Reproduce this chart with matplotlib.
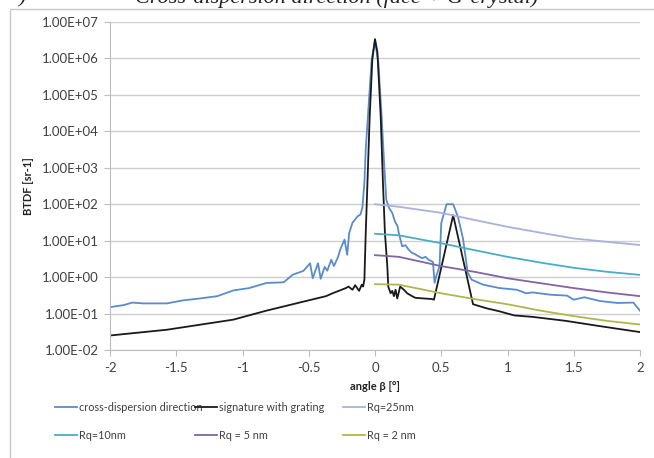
import matplotlib
matplotlib.use("Agg")
import matplotlib.pyplot as plt
from matplotlib.patches import Rectangle

# ---- data ----
cross_x = [-2.0, -1.9, -1.83, -1.75, -1.65, -1.57, -1.45, -1.32, -1.19, -1.07, -0.95, -0.82,
           -0.69, -0.62, -0.54, -0.49, -0.47, -0.45, -0.43, -0.41, -0.38, -0.36, -0.33, -0.31,
           -0.28, -0.26, -0.23, -0.21, -0.195, -0.17, -0.13, -0.11, -0.095, -0.08, -0.07,
           -0.045, -0.025, 0.0, 0.025, 0.05, 0.07, 0.085, 0.105, 0.13, 0.15, 0.17, 0.18,
           0.205, 0.23, 0.255, 0.28, 0.305, 0.33, 0.355, 0.38, 0.405, 0.437, 0.45, 0.46,
           0.487, 0.50, 0.54, 0.59, 0.626, 0.664, 0.70, 0.73, 0.815, 0.94, 1.07, 1.14, 1.19,
           1.32, 1.45, 1.5, 1.58, 1.7, 1.83, 1.95, 2.0]
cross_y = [0.15, 0.17, 0.20, 0.19, 0.19, 0.19, 0.23, 0.26, 0.30, 0.43, 0.50, 0.69,
           0.72, 1.17, 1.48, 2.4, 0.93, 1.5, 2.4, 0.9, 1.9, 1.5, 3.0, 2.0,
           3.5, 6.0, 10.7, 4.1, 16, 31, 47, 52, 80, 390, 3200,
           76000, 950000, 3.0e6, 8e5, 25000, 1100, 135, 80, 58, 34, 25, 16,
           7, 7.5, 5.6, 4.6, 4.2, 3.7, 3.3, 3.6, 3.0, 2.6, 0.7, 1.0,
           2.0, 30, 100, 100, 45, 11.5, 1.3, 0.85, 0.62, 0.50, 0.45, 0.36, 0.38,
           0.33, 0.31, 0.24, 0.28, 0.22, 0.195, 0.2, 0.12]

grat_x = [-2.0, -1.57, -1.07, -0.82, -0.57, -0.37, -0.32, -0.22, -0.2, -0.17, -0.15, -0.12,
          -0.10, -0.09, -0.08, -0.07, -0.057, -0.04, -0.02, 0.0, 0.018, 0.043, 0.06, 0.075,
          0.093, 0.10, 0.118, 0.13, 0.143, 0.155, 0.168, 0.19, 0.218, 0.243, 0.28, 0.305,
          0.43, 0.445, 0.59, 0.74, 0.84, 0.94, 1.05, 1.19, 1.44, 1.7, 2.0]
grat_y = [0.025, 0.036, 0.068, 0.12, 0.20, 0.30, 0.36, 0.50, 0.55, 0.45, 0.60, 0.42,
          0.62, 0.55, 0.85, 16, 390, 26000, 950000, 3.4e6, 1.5e6, 26000, 390, 16,
          2.0, 0.55, 0.36, 0.42, 0.30, 0.45, 0.26, 0.55, 0.45, 0.36, 0.30, 0.27,
          0.25, 0.24, 50, 0.18, 0.14, 0.115, 0.089, 0.081, 0.063, 0.045, 0.031]

rq_x = [0.0, 0.18, 0.5, 0.75, 1.0, 1.25, 1.5, 1.75, 2.0]
rq25 = [100, 85, 58, 37, 24, 16.5, 11.5, 9.3, 7.6]
rq10 = [15.5, 14, 8.5, 5.5, 3.6, 2.5, 1.8, 1.4, 1.15]
rq5 = [4.0, 3.6, 2.0, 1.4, 0.93, 0.68, 0.50, 0.38, 0.30]
rq2 = [0.64, 0.62, 0.36, 0.25, 0.18, 0.12, 0.085, 0.063, 0.05]

x_ticks = [-2, -1.5, -1, -0.5, 0, 0.5, 1, 1.5, 2]
x_tick_labels = ["-2", "-1.5", "-1", "-0.5", "0", "0.5", "1", "1.5", "2"]
y_ticks = [1e-2, 1e-1, 1e0, 1e1, 1e2, 1e3, 1e4, 1e5, 1e6, 1e7]
y_tick_labels = ["1.00E-02", "1.00E-01", "1.00E+00", "1.00E+01", "1.00E+02",
                 "1.00E+03", "1.00E+04", "1.00E+05", "1.00E+06", "1.00E+07"]

plt.rcParams['font.family'] = ['Lato', 'DejaVu Sans']

W, H = 654, 458
fig = plt.figure(figsize=(W / 100, H / 100), dpi=100)

# chart frame
fig.patches.append(Rectangle((10 / W, -0.1), 1.2, 1 - 9 / H + 0.1, transform=fig.transFigure,
                             fill=False, edgecolor='#c8c8c8', linewidth=1.0))

# title (cut off at the top, as in the source image)
fig.text(18 / W, 1 + 2 / H, ")", fontsize=16, family='Liberation Serif', style='italic',
         va='center', ha='left', color='#222222')
fig.text(135 / W, 1 + 2 / H, "Cross-dispersion direction (face + G-crystal)", fontsize=16,
         family='Liberation Serif', style='italic', va='center', ha='left', color='#222222')

ax = fig.add_axes([110 / W, 1 - 350 / H, 530 / W, 328 / H])
ax.set_yscale('log')
ax.set_xlim(-2, 2)
ax.set_ylim(1e-2, 1e7)

l_cross, = ax.plot(cross_x, cross_y, color='#5a8bcb', lw=1.3, label='cross-dispersion direction')
l_grat, = ax.plot(grat_x, grat_y, color='#1a1a1a', lw=1.3, label='signature with grating')
l25, = ax.plot(rq_x, rq25, color='#aab2da', lw=1.3, label='Rq=25nm')
l10, = ax.plot(rq_x, rq10, color='#4badc4', lw=1.3, label='Rq=10nm')
l5, = ax.plot(rq_x, rq5, color='#8066a3', lw=1.3, label='Rq = 5 nm')
l2, = ax.plot(rq_x, rq2, color='#adb84c', lw=1.3, label='Rq = 2 nm')

ax.set_xticks(x_ticks)
ax.set_xticklabels(x_tick_labels)
ax.set_yticks(y_ticks)
ax.set_yticklabels(y_tick_labels)
ax.yaxis.set_minor_locator(matplotlib.ticker.NullLocator())
ax.grid(axis='y', color='#cfcfcf', lw=1.0)
ax.set_axisbelow(True)
for s in ['top', 'right']:
    ax.spines[s].set_visible(False)
for s in ['left', 'bottom']:
    ax.spines[s].set_color('#bdbdbd')
ax.tick_params(axis='both', colors='#bdbdbd', labelcolor='#404040', labelsize=9.5, length=4,
               direction='out')
ax.tick_params(axis='y', pad=4)
ax.tick_params(axis='x', pad=5)

ax.set_ylabel('BTDF [sr-1]', fontsize=8, fontweight='bold', color='#222222', labelpad=6)
ax.set_xlabel('angle β [°]', fontsize=8, fontweight='bold', color='#222222', labelpad=5)

cols = [([l_cross, l10], 55), ([l_grat, l5], 195), ([l25, l2], 343)]
for handles, xpix in cols:
    fig.legend(handles=handles, labels=[h.get_label() for h in handles],
               loc='upper left', bbox_to_anchor=(xpix / W, 1 - 402 / H), ncol=1,
               frameon=False, fontsize=7.8, handlelength=2.0, handletextpad=0.25,
               labelspacing=1.55, borderpad=0, borderaxespad=0, labelcolor='#404040')

fig.savefig('out.png', dpi=100)
